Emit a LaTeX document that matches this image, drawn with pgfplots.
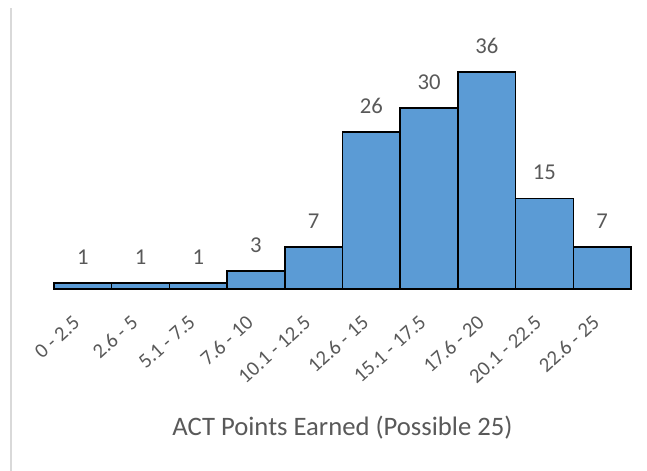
\documentclass[border=0pt]{standalone}
\usepackage{pgfplots}
\pgfplotsset{compat=1.18}
\usepackage{fontspec}
\setmainfont{Carlito}
\definecolor{barblue}{HTML}{5B9BD5}
\definecolor{txtgray}{HTML}{595959}
\definecolor{linegray}{HTML}{D9D9D9}

\begin{document}
\begin{tikzpicture}
  \useasboundingbox (0,0) rectangle (485.25pt,353.25pt);
  % chart area border (only left side shows)
  \draw[linegray, line width=1.2pt] (8.25pt,0) -- (8.25pt,347.25pt);
  \begin{axis}[
      at={(40.5pt,136.5pt)}, anchor=south west,
      scale only axis,
      width=432.75pt, height=180.9pt,
      xmin=0, xmax=10,
      ymin=0, ymax=40,
      axis y line=none,
      axis x line*=bottom,
      x axis line style={linegray, line width=0.8pt, -},
      xtick={0.5,1.5,...,9.5},
      xticklabels={0 - 2.5, 2.6 - 5, 5.1 - 7.5, 7.6 - 10, 10.1 - 12.5,
                   12.6 - 15, 15.1 - 17.5, 17.6 - 20, 20.1 - 22.5, 22.6 - 25},
      major tick length=0pt,
      xticklabel style={xshift=-8pt, yshift=-17.5pt, rotate=42, anchor=north east,
                        font=\fontsize{15.5}{17}\selectfont,
                        text=txtgray, inner sep=1pt},
      xlabel={ACT Points Earned (Possible 25)},
      xlabel style={at={(axis description cs:0.5,0)}, anchor=center, yshift=-104pt,
                    font=\fontsize{20}{22}\selectfont, text=txtgray},
      clip=false,
      /pgf/number format/assume math mode=true,
      nodes near coords,
      every node near coord/.append style={font=\fontsize{17}{19}\selectfont,
                    text=txtgray, anchor=south, inner sep=0pt, yshift=13.5pt},
    ]
    \addplot[ybar, bar width=1, bar shift=0pt, fill=barblue, draw=black, line width=1.1pt]
      coordinates {
        (0.5,1) (1.5,1) (2.5,1) (3.5,3) (4.5,7)
        (5.5,26) (6.5,30) (7.5,36) (8.5,15) (9.5,7)
      };
  \end{axis}
\end{tikzpicture}
\end{document}
